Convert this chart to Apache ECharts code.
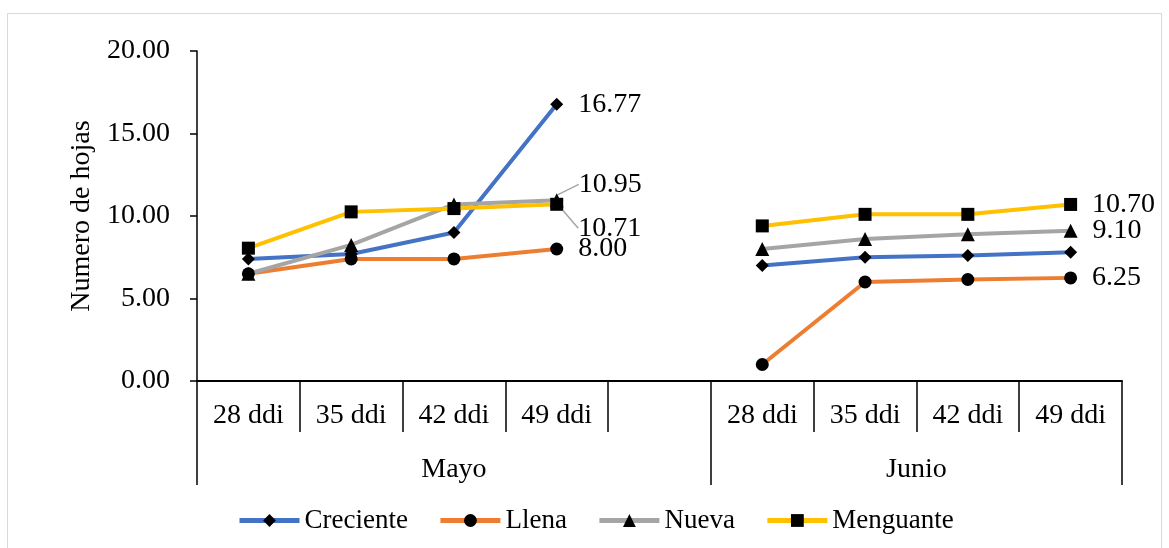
<!DOCTYPE html>
<html>
<head>
<meta charset="utf-8">
<script src="https://cdn.jsdelivr.net/npm/echarts@6/dist/echarts.min.js"></script>
<style>
  html, body { margin: 0; padding: 0; background: #fff; }
  #frame { position: absolute; left: 7px; top: 13px; width: 1155px; height: 560px; border: 1px solid #d9d9d9; box-sizing: border-box; }
  #chart { position: absolute; left: 0; top: 0; width: 1169px; height: 548px; }
</style>
</head>
<body>
<div id="frame"></div>
<div id="chart"></div>
<script>
// Leaf count per moon phase, sampled at days after planting in May and June
const weeks = ['28 ddi', '35 ddi', '42 ddi', '49 ddi', '', '28 ddi', '35 ddi', '42 ddi', '49 ddi'];
const months = ['Mayo', 'Junio'];
const monthCenters = [2.5, 7];
const monthBounds = [0, 5, 9];
const yTicks = [0, 5, 10, 15, 20];

const creciente = [7.40, 7.70, 9.00, 16.77, null, 7.00, 7.50, 7.60, 7.80];
const llena     = [6.50, 7.40, 7.40, 8.00, null, 1.00, 6.00, 6.15, 6.25];
const nueva     = [6.50, 8.25, 10.70, 10.95, null, 8.00, 8.60, 8.90, 9.10];
const menguante = [8.05, 10.25, 10.45, 10.71, null, 9.40, 10.10, 10.10, 10.70];

// points that carry a value label
const labeled = {
  Creciente: [3],
  Llena: [3, 8],
  Nueva: [3, 8],
  Menguante: [3, 8]
};

const FONT = 'Liberation Serif';
const FS = 28;
const chart = echarts.init(document.getElementById('chart'), null, { renderer: 'canvas' });

// shift: vertical nudge (px) for the May end-point label, drawn with a leader line
function makeSeries(name, values, color, symbol, size, shift) {
  const show = labeled[name];
  const data = values.map(function (v, i) {
    const item = { value: v };
    if (show.indexOf(i) < 0) {
      item.label = { show: false };
      item.labelLine = { show: false };
    } else if (shift && i === 3) {
      item.labelLine = { show: true, lineStyle: { color: '#a5a5a5', width: 1.5 } };
    }
    return item;
  });
  return {
    name: name,
    type: 'line',
    data: data,
    connectNulls: false,
    symbol: symbol,
    symbolSize: size,
    showAllSymbol: true,
    lineStyle: { color: color, width: 4 },
    itemStyle: { color: '#000', borderWidth: 0 },
    emphasis: { disabled: true },
    label: {
      show: true,
      position: 'right',
      distance: 15,
      fontFamily: FONT,
      fontSize: FS,
      color: '#000',
      formatter: function (p) { return Number(p.value).toFixed(2); }
    },
    labelLine: { show: false },
    labelLayout: function (p) {
      if (shift && p.dataIndex === 3) return { dy: shift, dx: 0 };
      return {};
    }
  };
}

chart.setOption({
  animation: false,
  backgroundColor: 'transparent',
  grid: { left: 197, right: 47, top: 51, bottom: 167, containLabel: false },
  xAxis: [
    {
      type: 'category',
      data: weeks,
      boundaryGap: true,
      position: 'bottom',
      offset: 0,
      axisLine: { show: true, lineStyle: { color: '#000', width: 2 } },
      axisTick: { show: true, interval: 0, length: 51, lineStyle: { color: '#000', width: 1.5 } },
      axisLabel: { interval: 0, margin: 20, fontFamily: FONT, fontSize: FS, lineHeight: 30, color: '#000' },
      splitLine: { show: false }
    },
    {
      type: 'value',
      min: 0,
      max: 9,
      position: 'bottom',
      offset: 0,
      axisLine: { show: false },
      axisTick: { show: true, customValues: monthBounds, length: 104, lineStyle: { color: '#000', width: 1.5 } },
      axisLabel: {
        customValues: monthCenters,
        margin: 74,
        fontFamily: FONT, fontSize: FS, lineHeight: 30, color: '#000',
        formatter: function (v) { return months[monthCenters.indexOf(v)] || ''; }
      },
      splitLine: { show: false }
    }
  ],
  yAxis: {
    type: 'value',
    min: yTicks[0],
    max: yTicks[yTicks.length - 1],
    interval: 5,
    name: 'Numero de hojas',
    nameLocation: 'middle',
    nameGap: 100,
    nameTextStyle: { fontFamily: FONT, fontSize: FS, color: '#000' },
    axisLine: { show: true, lineStyle: { color: '#000', width: 1.5 } },
    axisTick: { show: true, length: 7, lineStyle: { color: '#000', width: 1.5 } },
    axisLabel: {
      margin: 27, fontFamily: FONT, fontSize: FS, color: '#000',
      formatter: function (v) { return v.toFixed(2); }
    },
    splitLine: { show: false }
  },
  legend: {
    bottom: 9,
    left: 232,
    itemWidth: 60,
    itemHeight: 16,
    itemGap: 30,
    lineStyle: { width: 5 },
    textStyle: { fontFamily: FONT, fontSize: 27, color: '#000' },
    data: ['Creciente', 'Llena', 'Nueva', 'Menguante']
  },
  series: [
    makeSeries('Creciente', creciente, '#4472C4', 'diamond', 13, 0),
    makeSeries('Llena', llena, '#ED7D31', 'circle', 13, 0),
    makeSeries('Nueva', nueva, '#A5A5A5', 'triangle', 14, -16),
    makeSeries('Menguante', menguante, '#FFC000', 'rect', 13, 24)
  ]
});
</script>
</body>
</html>
